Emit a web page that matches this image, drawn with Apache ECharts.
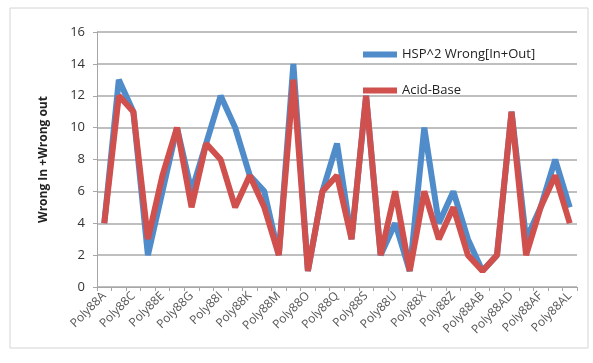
<!DOCTYPE html>
<html>
<head>
<meta charset="utf-8">
<script src="https://cdn.jsdelivr.net/npm/echarts@6/dist/echarts.min.js"></script>
<style>
  html, body { margin: 0; padding: 0; background: #fff; }
  #chart { width: 593px; height: 363px; }
</style>
</head>
<body>
<div id="chart"></div>
<script>
// 类别
var categories = ['Poly88A', 'Poly88B', 'Poly88C', 'Poly88D', 'Poly88E', 'Poly88F', 'Poly88G', 'Poly88H',
  'Poly88I', 'Poly88J', 'Poly88K', 'Poly88L', 'Poly88M', 'Poly88N', 'Poly88O', 'Poly88P', 'Poly88Q',
  'Poly88R', 'Poly88S', 'Poly88T', 'Poly88U', 'Poly88W', 'Poly88X', 'Poly88Y', 'Poly88Z', 'Poly88AA',
  'Poly88AB', 'Poly88AC', 'Poly88AD', 'Poly88AE', 'Poly88AF', 'Poly88AK', 'Poly88AL'];
// HSP^2
var hspData = [4, 13, 11, 2, 6, 10, 6, 9, 12, 10, 7, 6, 2, 14, 1, 6, 9, 3, 12, 2, 4, 1, 10, 4, 6, 3, 1, 2, 11, 3, 5, 8, 5];
// Acid-Base
var acidData = [4, 12, 11, 3, 7, 10, 5, 9, 8, 5, 7, 5, 2, 13, 1, 6, 7, 3, 12, 2, 6, 1, 6, 3, 5, 2, 1, 2, 11, 2, 5, 7, 4];
var yTicks = [0, 2, 4, 6, 8, 10, 12, 14, 16];

var dom = document.getElementById('chart');
var myChart = echarts.init(dom);
var option = {
  backgroundColor: '#fff',
  animation: false,
  graphic: [{
    type: 'rect',
    shape: { x: 10, y: 8, width: 578, height: 340 },
    style: { fill: 'none', stroke: '#d4d4d4', lineWidth: 1 }
  }],
  grid: {
    left: 97,
    right: 16,
    top: 32,
    bottom: 76
  },
  legend: {
    orient: 'vertical',
    left: 358,
    top: 43,
    itemGap: 23,
    itemWidth: 34,
    itemHeight: 6,
    icon: 'rect',
    textStyle: { color: '#222', fontSize: 13, fontFamily: 'Open Sans' },
    data: ['HSP^2 Wrong[In+Out]', 'Acid-Base']
  },
  xAxis: {
    type: 'category',
    data: categories,
    boundaryGap: true,
    axisLine: { lineStyle: { color: '#a6a6a6', width: 1 } },
    axisTick: { show: true, interval: 0, length: 4, lineStyle: { color: '#a6a6a6' } },
    axisLabel: {
      interval: 1,
      rotate: 45,
      color: '#555',
      fontSize: 12,
      fontFamily: 'Open Sans',
      margin: 7
    }
  },
  yAxis: {
    type: 'value',
    min: yTicks[0],
    max: yTicks[yTicks.length - 1],
    interval: 2,
    name: 'Wrong In +Wrong out',
    nameLocation: 'middle',
    nameGap: 47,
    nameTextStyle: { color: '#222', fontSize: 12, fontWeight: 'bold', fontFamily: 'Open Sans' },
    axisLine: { show: true, lineStyle: { color: '#a6a6a6' } },
    axisTick: { show: true, length: 4, lineStyle: { color: '#a6a6a6' } },
    splitLine: { lineStyle: { color: '#bfbfbf', width: 2 } },
    axisLabel: { color: '#333', fontSize: 13, fontFamily: 'Open Sans', margin: 12 }
  },
  series: [{
    name: 'HSP^2 Wrong[In+Out]',
    type: 'line',
    data: hspData,
    symbol: 'none',
    itemStyle: { color: '#4f8cc9' },
    lineStyle: { color: '#4f8cc9', width: 6 }
  }, {
    name: 'Acid-Base',
    type: 'line',
    data: acidData,
    symbol: 'none',
    itemStyle: { color: '#d0504d' },
    lineStyle: { color: '#d0504d', width: 6 }
  }]
};
myChart.setOption(option, true);
</script>
</body>
</html>
